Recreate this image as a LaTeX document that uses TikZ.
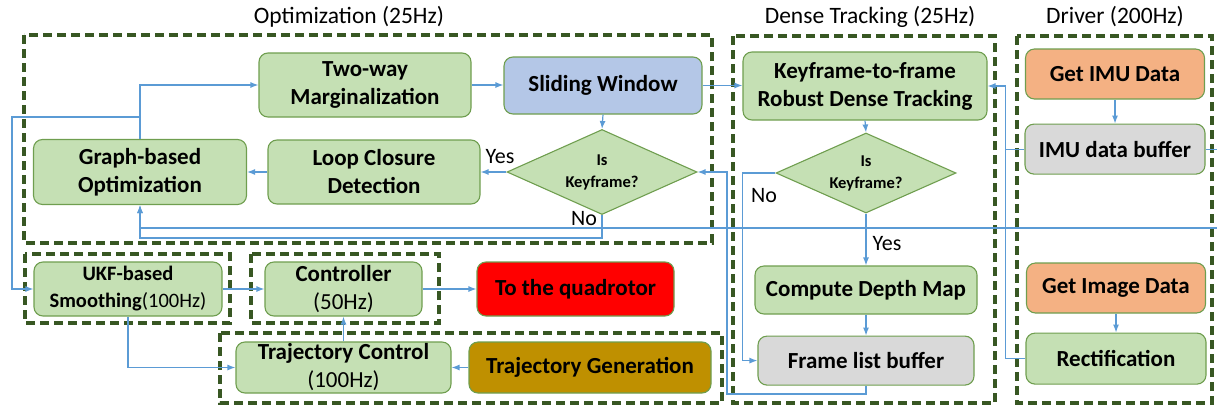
\documentclass[tikz,border=0pt]{standalone}
\usepackage{fontspec}
\setmainfont{Carlito}
\usepackage{xcolor}
\usepackage{tikz}
\usetikzlibrary{arrows.meta,shapes.geometric,positioning}

\definecolor{lineblue}{HTML}{5B9BD5}
\definecolor{boxgreen}{HTML}{C5E0B4}
\definecolor{edgegreen}{HTML}{6F9E4F}
\definecolor{boxblue}{HTML}{B4C7E7}
\definecolor{boxgray}{HTML}{D9D9D9}
\definecolor{boxorange}{HTML}{F4B183}
\definecolor{boxgold}{HTML}{BF9000}
\definecolor{framegreen}{HTML}{385723}

\begin{document}
\begin{tikzpicture}[x=1pt, y=-1pt,
    blk/.style={draw=edgegreen, line width=1.1pt, rounded corners=9pt, fill=boxgreen, inner sep=0pt, align=center, font=\fontsize{23}{28}\selectfont\bfseries},
    dec/.style={draw=edgegreen, line width=1.1pt, diamond, aspect=2.2, fill=boxgreen, inner sep=0pt, align=center, font=\fontsize{16.5}{22}\selectfont\bfseries},
    grp/.style={draw=framegreen, line width=3.2pt, dash pattern=on 9pt off 5pt},
    ttl/.style={anchor=base, font=\fontsize{23.5}{27}\selectfont},
    lbl/.style={anchor=base, font=\fontsize{22}{25}\selectfont},
    arr/.style={draw=lineblue, line width=1.2pt, -{Latex[length=8pt,width=6pt]}},
    wire/.style={draw=lineblue, line width=1.2pt}]
\useasboundingbox (0,0) rectangle (1217,410);

\draw[grp] (24,35) rectangle (712,243);
\draw[grp] (733,36) rectangle (995,403);
\draw[grp] (1017,36) rectangle (1212,403);
\draw[grp] (25,254) rectangle (230,323);
\draw[grp] (251,254) rectangle (439,323);
\draw[grp] (220,333) rectangle (722,403);

\node (ttlopt) [ttl] at (349,23) {Optimization (25Hz)};
\node (ttldense) [ttl] at (870,23) {Dense Tracking (25Hz)};
\node (ttldrv) [ttl] at (1115,23) {Driver (200Hz)};

\node (twoway) [blk, minimum width=212, minimum height=64] at (365,85) {Two-way\\Marginalization};
\node (slide) [blk, fill=boxblue, minimum width=198, minimum height=57] at (603,85.5) {Sliding Window};
\node (graph) [blk, minimum width=213, minimum height=65] at (140,172) {Graph-based\\Optimization};
\node (loop) [blk, minimum width=212, minimum height=64] at (374,172) {Loop Closure\\Detection};
\node (key1) [dec, minimum width=190, minimum height=85] at (602,172) {Is\\Keyframe?};

\node (kf) [blk, minimum width=244, minimum height=68] at (865,86) {Keyframe-to-frame\\Robust Dense Tracking};
\node (key2) [dec, minimum width=180, minimum height=80] at (866,173) {Is\\Keyframe?};
\node (depth) [blk, minimum width=222, minimum height=48] at (866,290) {Compute Depth Map};
\node (frame) [blk, fill=boxgray, minimum width=216, minimum height=49, below=21pt of depth] {Frame list buffer};

\node (imu) [blk, fill=boxorange, minimum width=179, minimum height=50] at (1115,74) {Get IMU Data};
\node (imubuf) [blk, fill=boxgray, minimum width=180, minimum height=50, below=24pt of imu] {IMU data buffer};
\node (imgdata) [blk, fill=boxorange, minimum width=179, minimum height=50] at (1116,288) {Get Image Data};
\node (rect) [blk, minimum width=180, minimum height=51, below=19pt of imgdata] {Rectification};

\node (ukf) [blk, font=\fontsize{20.5}{27}\selectfont, minimum width=188, minimum height=54] at (128,289) {\textbf{UKF-based}\\\textbf{Smoothing}(100Hz)};
\node (ctrl) [blk, minimum width=157, minimum height=54] at (343.5,289) {Controller\\\mdseries(50Hz)};
\node (quad) [blk, fill=red, minimum width=197, minimum height=54] at (575.5,289) {To the quadrotor};
\node (trajc) [blk, minimum width=215, minimum height=51] at (343.5,367.5) {Trajectory Control\\\mdseries(100Hz)};
\node (trajg) [blk, fill=boxgold, minimum width=242, minimum height=51] at (590,367.5) {Trajectory Generation};

\node (yes1) [lbl] at (500,163) {Yes};
\node (no1) [lbl] at (584,225) {No};
\node (no2) [lbl] at (764,202) {No};
\node (yes2) [lbl] at (887,250) {Yes};

\coordinate (tap) at (140,117);
\coordinate (lft) at (12,117);
\coordinate (redge) at (1222,228);
\coordinate (fb) at (727,394);

\draw[arr] (twoway.east) -- (slide.west |- twoway.east);
\draw[arr] (slide.south) -- (key1.north);
\draw[arr] (key1.west) -- (loop.east);
\draw[arr] (loop.west) -- (graph.east);
\draw[arr] (graph.north) |- (twoway.west);
\draw[arr] (tap) -- (lft) |- (ukf.west);
\draw[arr] (key1.south) -- ++(0,23) -| (graph.south);
\draw[arr] (imubuf.east) -| (redge) -| (graph.south);

\draw[arr] (slide.east) -- (kf.west |- slide.east);
\draw[arr] (rect.west) -- ++(-20,0) coordinate (bus) |- (kf.east);
\draw[wire] (imubuf.west) -- (imubuf.west -| bus);
\draw[arr] (imu) -- (imubuf);
\draw[arr] (imgdata) -- (rect);
\draw[arr] (kf.south) -- (key2.north);
\draw[arr] (key2.south) -- (depth.north);
\draw[arr] (key2.west) -- ++(-33,0) |- (frame.west);
\draw[arr] (depth) -- (frame);
\draw[arr] (frame.south) |- (fb) |- (key1.east);

\draw[arr] (ukf.east) -- (ctrl.west);
\draw[arr] (ctrl.east) -- (quad.west);
\draw[arr] (ukf.south) |- (trajc.west);
\draw[arr] (trajc.north) -- (ctrl.south);
\draw[arr] (trajg.west) -- (trajc.east);
\end{tikzpicture}
\end{document}
